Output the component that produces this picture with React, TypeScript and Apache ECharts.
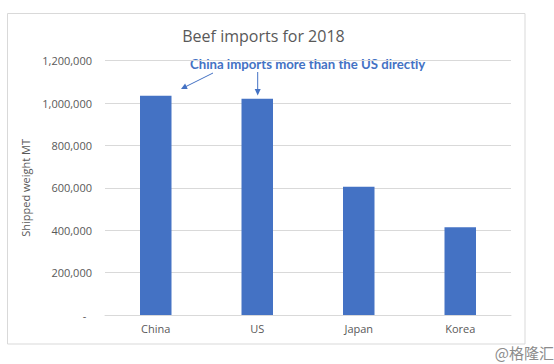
import React, { useEffect, useRef } from "react";
import * as echarts from "echarts";

const categories = ["China", "US", "Japan", "Korea"];
const imports = [1035000, 1020000, 605000, 414000];
const yMin = 0;
const yMax = 1200000;
const yStep = 200000;

const titleText = "Beef imports for 2018";
const noteText = "China imports more than the US directly";
const axisName = "Shipped weight MT";
const watermark = "@格隆汇";

const FONT = "'Open Sans', 'Noto Sans', sans-serif";
const GRAY = "#595959";
const BLUE = "#4472C4";

export default function App() {
  const ref = useRef<HTMLDivElement>(null);

  useEffect(() => {
    if (!ref.current) return;
    const chart = echarts.init(ref.current, null, { renderer: "svg" });
    chart.setOption({
      animation: false,
      backgroundColor: "#ffffff",
      grid: { left: 105, right: 43, top: 60.7, bottom: 49 },
      xAxis: {
        type: "category",
        data: categories,
        axisLine: { lineStyle: { color: "#d9d9d9", width: 1 } },
        axisTick: { show: false },
        axisLabel: { color: GRAY, fontSize: 11, fontFamily: FONT, margin: 8 },
      },
      yAxis: {
        type: "value",
        min: yMin,
        max: yMax,
        interval: yStep,
        name: axisName,
        nameLocation: "middle",
        nameGap: 63,
        nameTextStyle: { color: GRAY, fontSize: 11, fontFamily: FONT },
        axisLine: { show: false },
        axisTick: { show: false },
        splitLine: { lineStyle: { color: "#d9d9d9", width: 1 } },
        axisLabel: {
          color: GRAY,
          fontSize: 11,
          fontFamily: FONT,
          margin: 13,
          formatter: (v: number) => (v === 0 ? "-  " : v.toLocaleString("en-US")),
        },
      },
      series: [
        {
          type: "bar",
          data: imports,
          barWidth: 31.5,
          itemStyle: { color: BLUE },
        },
      ],
      graphic: [
        {
          type: "rect",
          shape: { x: 7.5, y: 13.5, width: 517.5, height: 330.5 },
          style: { fill: "none", stroke: "#d9d9d9", lineWidth: 1 },
          silent: true,
        },
        {
          type: "text",
          x: 263.5,
          y: 36,
          style: {
            text: titleText,
            fill: GRAY,
            fontSize: 16,
            fontFamily: FONT,
            textAlign: "center",
            textVerticalAlign: "middle",
          },
        },
        {
          type: "text",
          x: 190,
          y: 63.5,
          style: {
            text: noteText,
            fill: BLUE,
            fontSize: 13.2,
            fontWeight: "bold",
            fontFamily: "Lato, 'Open Sans', sans-serif",
            textAlign: "left",
            textVerticalAlign: "middle",
          },
        },
        {
          type: "line",
          shape: { x1: 213, y1: 73, x2: 185, y2: 87 },
          style: { stroke: BLUE, lineWidth: 1 },
        },
        {
          type: "polygon",
          shape: { points: [[181, 89], [187.7, 89], [185.1, 83.6]] },
          style: { fill: BLUE },
        },
        {
          type: "line",
          shape: { x1: 257.7, y1: 72, x2: 257.7, y2: 90 },
          style: { stroke: BLUE, lineWidth: 1 },
        },
        {
          type: "polygon",
          shape: { points: [[257.7, 95.5], [254.7, 89], [260.7, 89]] },
          style: { fill: BLUE },
        },
        {
          type: "text",
          x: 554,
          y: 352,
          style: {
            text: watermark,
            fill: "#8c8c8c",
            fontSize: 15,
            fontFamily: "'Noto Sans CJK SC', sans-serif",
            textAlign: "right",
            textVerticalAlign: "middle",
          },
        },
      ],
    });
    return () => chart.dispose();
  }, []);

  return (
    <div
      ref={ref}
      style={{ position: "fixed", left: 0, top: 0, width: 554, height: 364 }}
    />
  );
}
